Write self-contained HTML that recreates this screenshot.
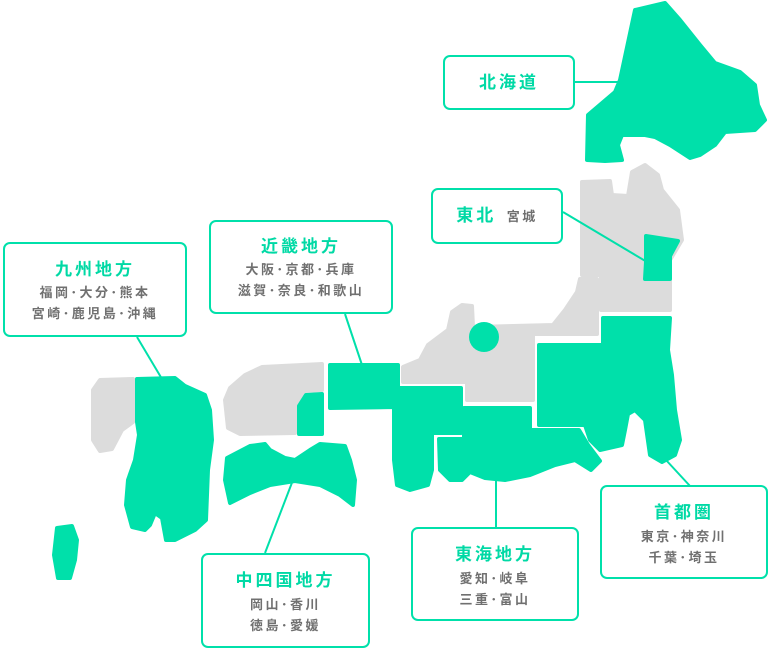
<!DOCTYPE html>
<html><head><meta charset="utf-8"><style>
body{margin:0;background:#fff;width:771px;height:650px;overflow:hidden;position:relative;font-family:"Liberation Sans","Noto Sans CJK JP",sans-serif}
svg{position:absolute;left:0;top:0}
.b{position:absolute;box-sizing:border-box;border:2px solid #00e0aa;border-radius:7px;background:#fff;text-align:center}
.t{color:#00d9a5;font-weight:bold;font-size:17px;letter-spacing:3px}
.s{color:#707070;font-weight:bold;font-size:13px;letter-spacing:2.5px;line-height:21px}
</style></head><body>
<svg width="771" height="650" viewBox="0 0 771 650">
<g stroke-linejoin="round" stroke-width="4">
<g fill="#dcdcdc" stroke="#dcdcdc">
<path d="M582,182 L610,181 L612,195 L628,196 L632,172 L645,165 L658,175 L662,190 L678,210 L682,240 L670,260 L670,310 L601,310 L601,275 L582,275 Z"/>
<path d="M580,279 L597,279 L597,334 L533,334 L533,400 L467,400 L467,382 L403,382 L403,367 L420,360 L428,345 L448,330 L452,312 L462,305 L472,306 L473,327 L553,325 L565,310 L577,292 Z"/>
<path d="M322,364 L322,390 L305,391 L296,405 L295,433 L240,434 L228,428 L225,400 L230,388 L245,375 L262,367 Z"/>
<path d="M133,379 L100,380 L93,390 L93,440 L100,451 L112,449 L122,430 L133,422 Z"/>
</g>
<g fill="#00e0aa" stroke="#00e0aa">
<path d="M635,10 L665,3 L680,20 L700,45 L715,63 L740,72 L755,85 L758,105 L765,120 L755,130 L725,132 L715,145 L700,155 L690,158 L670,145 L655,137 L645,135 L622,135 L618,145 L622,160 L605,161 L587,160 L588,115 L615,92 L620,80 Z"/>
<path d="M646,236 L678,241 L670,256 L670,279 L645,279 L646,262 Z"/>
<path d="M603,318 L670,318 L668,350 L672,375 L675,410 L680,440 L675,455 L662,462 L650,455 L645,420 L635,410 L628,414 L625,430 L622,445 L600,450 L590,440 L585,425 L539,425 L539,345 L603,345 Z"/>
<path d="M469,408 L530,408 L530,430 L579,430 L588,445 L600,461 L591,470 L575,460 L555,465 L530,475 L505,480 L485,478 L470,472 L462,480 L450,480 L440,470 L439,439 L464,439 L464,408 Z"/>
<path d="M330,365 L398,365 L398,388 L461,388 L461,433 L432,433 L432,470 L428,485 L410,490 L397,485 L394,460 L394,407 L330,408 Z"/>
<path d="M322,394 L322,434 L299,434 L299,406 L306,395 Z"/>
<path d="M227,458 L250,446 L265,444 L270,450 L285,458 L295,460 L310,450 L320,444 L345,446 L350,460 L355,480 L353,505 L340,495 L320,485 L295,481 L270,485 L250,493 L230,503 L225,480 Z"/>
<path d="M137,379 L175,378 L185,386 L205,395 L210,410 L212,440 L208,470 L206,520 L195,530 L175,540 L166,540 L162,518 L155,513 L150,525 L145,530 L132,527 L126,505 L128,480 L135,460 L139,435 L137,422 Z"/>
<path d="M57,528 L72,526 L77,540 L75,560 L70,578 L58,578 L54,555 Z"/>
</g>
</g>
<circle cx="484" cy="337" r="15" fill="#00e0aa"/>
<g stroke="#00e0aa" stroke-width="2" fill="none">
<line x1="575" y1="82" x2="620" y2="82"/>
<line x1="563" y1="212" x2="647" y2="262"/>
<line x1="137" y1="337" x2="162" y2="379"/>
<line x1="345" y1="314" x2="362" y2="365"/>
<line x1="293" y1="480" x2="265" y2="553"/>
<line x1="496" y1="478" x2="496" y2="527"/>
<line x1="666" y1="460" x2="690" y2="486"/>
</g>
</svg>
<div class="b" style="left:443px;top:55px;width:132px;height:55px;line-height:51px"><span class="t">北海道</span></div>
<div class="b" style="left:431px;top:188px;width:132px;height:56px;line-height:52px"><span class="t">東北</span> <span class="s" style="margin-left:6px">宮城</span></div>
<div class="b" style="left:3px;top:242px;width:184px;height:95px;padding-top:14px"><div class="t" style="line-height:24px">九州地方</div><div class="s">福岡･大分･熊本<br>宮崎･鹿児島･沖縄</div></div>
<div class="b" style="left:209px;top:220px;width:184px;height:94px;padding-top:13px"><div class="t" style="line-height:24px">近畿地方</div><div class="s">大阪･京都･兵庫<br>滋賀･奈良･和歌山</div></div>
<div class="b" style="left:201px;top:553px;width:169px;height:95px;padding-top:13px"><div class="t" style="line-height:26px">中四国地方</div><div class="s">岡山･香川<br>徳島･愛媛</div></div>
<div class="b" style="left:411px;top:527px;width:168px;height:94px;padding-top:13px"><div class="t" style="line-height:26px">東海地方</div><div class="s">愛知･岐阜<br>三重･富山</div></div>
<div class="b" style="left:600px;top:485px;width:168px;height:94px;padding-top:13px"><div class="t" style="line-height:26px">首都圏</div><div class="s">東京･神奈川<br>千葉･埼玉</div></div>
</body></html>
